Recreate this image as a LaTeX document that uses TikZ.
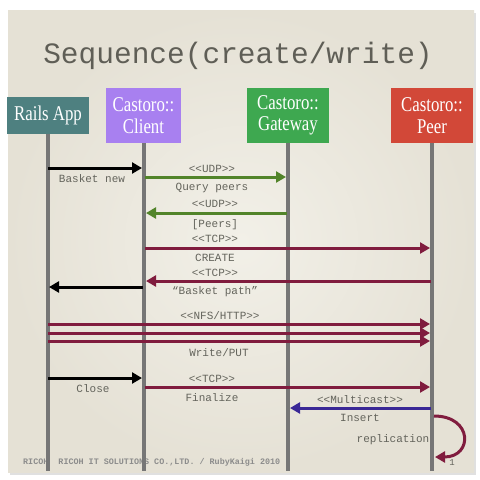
\documentclass[tikz,border=0pt]{standalone}
\usepackage{fontspec}
\setmainfont{Liberation Serif}
\newfontfamily\boxfont[FakeStretch=0.8]{Liberation Serif}
\newfontfamily\monofont{Liberation Mono}
\usetikzlibrary{arrows.meta}
\definecolor{paper}{RGB}{229,225,213}
\definecolor{paperlight}{RGB}{242,240,232}
\definecolor{titlegray}{RGB}{95,94,86}
\definecolor{labelgray}{RGB}{100,100,92}
\definecolor{lifegray}{RGB}{118,118,118}
\definecolor{railsc}{RGB}{78,128,128}
\definecolor{clientc}{RGB}{168,128,240}
\definecolor{gatewayc}{RGB}{62,168,80}
\definecolor{peerc}{RGB}{210,72,56}
\definecolor{maroon}{RGB}{128,28,62}
\definecolor{udpgreen}{RGB}{82,132,42}
\definecolor{mcblue}{RGB}{58,40,150}
\tikzset{
  head/.style={fill=#1, text=white, inner sep=0pt, align=center,
    font=\boxfont\fontsize{21}{21.5}\selectfont},
  lifeline/.style={draw=lifegray, line width=4pt},
  msg/.style={line width=3pt, -{Triangle[length=10pt,width=11pt]}, draw=#1},
  lbl/.style={font=\monofont\fontsize{11}{12}\selectfont, text=labelgray, inner sep=0pt, anchor=base}
}
\begin{document}
\begin{tikzpicture}[x=1pt,y=-1pt]
\useasboundingbox (0,0) rectangle (480,480);
\fill[white] (0,0) rectangle (480,480);
\fill[black!12] (10,13) rectangle (476,475);
\shade[inner color=paperlight, outer color=paper] (8,10) rectangle (474,472);
% title
\node[font=\monofont\fontsize{29.5}{30}\selectfont, text=titlegray, anchor=base, inner sep=0pt] (title) at (238,63) {Sequence(create/write)};
% heads
\node[head=railsc, minimum width=82pt, minimum height=37pt] (rails) at (48,115.5) {Rails App};
\node[head=clientc, minimum width=75pt, minimum height=55pt] (client) at (143.5,115.5) {Castoro::\\Client};
\node[head=gatewayc, minimum width=82pt, minimum height=55pt] (gateway) at (288,115.5) {Castoro::\\Gateway};
\node[head=peerc, minimum width=82pt, minimum height=55pt] (peer) at (432,115.5) {Castoro::\\Peer};
% footer (under lifelines)
\node[font=\monofont\bfseries\fontsize{8.4}{9}\selectfont, text=black!45, anchor=base west, inner sep=0pt] (footer) at (23,464) {RICOH\ \ RICOH IT SOLUTIONS CO.,LTD. / RubyKaigi 2010};
\node[font=\monofont\fontsize{9}{9}\selectfont, text=labelgray, anchor=base, inner sep=0pt] (pagenum) at (452,465) {1};
% lifeline ends
\coordinate (rend) at (47.5,471);
\coordinate (cend) at (144,471);
\coordinate (gend) at (288,471);
\coordinate (pend) at (432,471);
\draw[lifeline] (rails.south -| rend) -- (rend);
\draw[lifeline] (client.south -| cend) -- (cend);
\draw[lifeline] (gateway.south -| gend) -- (gend);
\draw[lifeline] (peer.south -| pend) -- (pend);
% message coordinates
\coordinate (a1) at (48,168);  \coordinate (b1) at (142,168);
\coordinate (a2) at (145,177); \coordinate (b2) at (286,177);
\coordinate (a3) at (287,213); \coordinate (b3) at (146,213);
\coordinate (a4) at (145,248); \coordinate (b4) at (430,248);
\coordinate (a5) at (431,281); \coordinate (b5) at (146,281);
\coordinate (a6) at (143,287); \coordinate (b6) at (49,287);
\coordinate (a7) at (48,324);  \coordinate (b7) at (430,324);
\coordinate (a8) at (48,333);  \coordinate (b8) at (430,333);
\coordinate (a9) at (48,341);  \coordinate (b9) at (430,341);
\coordinate (a10) at (48,378); \coordinate (b10) at (142,378);
\coordinate (a11) at (145,387); \coordinate (b11) at (430,387);
\coordinate (a12) at (431,408); \coordinate (b12) at (290,408);
\coordinate (a13) at (434,416); \coordinate (b13) at (435,457);
% arrows
\draw[msg=black] (a1) -- (b1);
\draw[msg=udpgreen] (a2) -- (b2);
\draw[msg=udpgreen] (a3) -- (b3);
\draw[msg=maroon] (a4) -- (b4);
\draw[msg=maroon] (a5) -- (b5);
\draw[msg=black] (a6) -- (b6);
\draw[msg=maroon] (a7) -- (b7);
\draw[msg=maroon] (a8) -- (b8);
\draw[msg=maroon] (a9) -- (b9);
\draw[msg=black] (a10) -- (b10);
\draw[msg=maroon] (a11) -- (b11);
\draw[msg=mcblue] (a12) -- (b12);
\draw[msg=maroon] (a13) .. controls (473,416) and (473,457) .. (b13);
% labels
\node[lbl] (l1) at (92,182) {Basket new};
\node[lbl] (l2a) at (212,172) {<{}<UDP>{}>};
\node[lbl] (l2b) at (212,190) {Query peers};
\node[lbl] (l3a) at (215,207) {<{}<UDP>{}>};
\node[lbl] (l3b) at (215,227) {[Peers]};
\node[lbl] (l4a) at (215,242) {<{}<TCP>{}>};
\node[lbl] (l4b) at (215,261) {CREATE};
\node[lbl] (l5a) at (215,276) {<{}<TCP>{}>};
\node[lbl] (l5b) at (215,294) {“Basket path”};
\node[lbl] (l7a) at (220,319) {<{}<NFS/HTTP>{}>};
\node[lbl] (l7b) at (219,356) {Write/PUT};
\node[lbl] (l10) at (93,392) {Close};
\node[lbl] (l11a) at (212,382) {<{}<TCP>{}>};
\node[lbl] (l11b) at (212,401) {Finalize};
\node[lbl] (l12a) at (360,403) {<{}<Multicast>{}>};
\node[lbl] (l12b) at (360,421) {Insert};
\node[lbl] (l13) at (393,442) {replication};
\end{tikzpicture}
\end{document}
